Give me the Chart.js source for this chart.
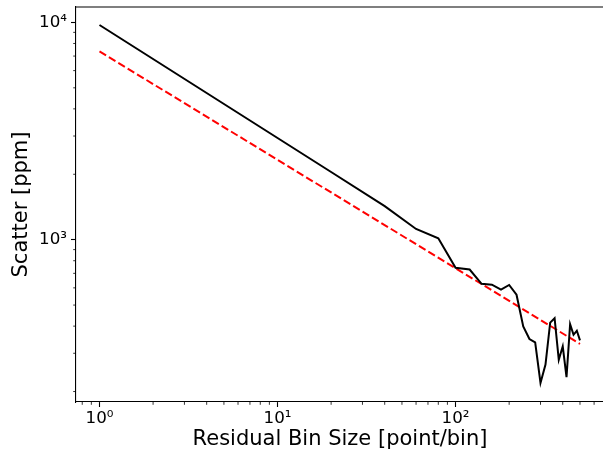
<!DOCTYPE html>
<html>
<head>
<meta charset="utf-8">
<script src="https://cdn.jsdelivr.net/npm/chart.js@4/dist/chart.umd.min.js"></script>
<style>
  html, body { margin: 0; padding: 0; background: #fff; overflow: hidden; }
  #wrap { width: 603px; height: 450px; overflow: hidden; }
</style>
</head>
<body>
<div id="wrap"><canvas id="chart" width="607" height="450"></canvas></div>
<script>
// residual bin size [point/bin]
const binSizes = [1, 20, 40, 60, 80, 100, 120, 140, 160, 180, 200, 220, 240,
                  260, 280, 300, 320, 340, 360, 380, 400, 420, 440, 460, 480, 500];
// measured scatter [ppm]
const scatterPpm = [9728, 2049, 1426, 1120, 1014, 743, 729, 626, 621, 589, 619, 558, 399,
                    349, 337, 219, 266, 415, 435, 280, 323, 233, 408, 365, 381, 344];
// expected white-noise line (ends)
const expectedBins = [1, 500];
const expectedPpm = [7354, 331];

const xTickValues = [1, 10, 100];
const xTickLabels = ["10\u2070", "10\u00b9", "10\u00b2"];
const yTickValues = [1000, 10000];
const yTickLabels = ["10\u00b3", "10\u2074"];
const xMinorTicks = [0.8, 0.9, 2, 3, 4, 5, 6, 7, 8, 9, 20, 30, 40, 50, 60, 70, 80, 90,
                     200, 300, 400, 500, 600];
const yMinorTicks = [200, 300, 400, 500, 600, 700, 800, 900,
                     2000, 3000, 4000, 5000, 6000, 7000, 8000, 9000];

const X_MIN = 0.738, X_MAX = 682;
const Y_MIN = 179, Y_MAX = 11775;
const FONT = "'DejaVu Sans', sans-serif";

// minor ticks + top spine, matplotlib style
const frameTicks = {
    id: "frameTicks",
    afterDraw(chart) {
        const { ctx, chartArea: a, scales: { x, y } } = chart;
        ctx.save();
        ctx.strokeStyle = "#000";
        ctx.lineWidth = 0.8;
        ctx.beginPath();
        xMinorTicks.forEach(v => {
            const px = x.getPixelForValue(v);
            if (px < a.left || px > a.right) return;
            ctx.moveTo(px, a.bottom);
            ctx.lineTo(px, a.bottom + 2.8);
        });
        yMinorTicks.forEach(v => {
            const py = y.getPixelForValue(v);
            if (py < a.top || py > a.bottom) return;
            ctx.moveTo(a.left, py);
            ctx.lineTo(a.left - 2.8, py);
        });
        ctx.stroke();
        ctx.lineWidth = 1.1;
        ctx.beginPath();
        ctx.moveTo(a.left, a.top);
        ctx.lineTo(a.right, a.top);
        ctx.stroke();
        ctx.restore();
    }
};

new Chart(document.getElementById("chart"), {
    type: "line",
    data: {
        datasets: [
            {
                label: "scatter",
                data: binSizes.map((b, i) => ({ x: b, y: scatterPpm[i] })),
                borderColor: "#000",
                borderWidth: 2,
                pointRadius: 0,
                tension: 0
            },
            {
                label: "expected",
                data: expectedBins.map((b, i) => ({ x: b, y: expectedPpm[i] })),
                borderColor: "#ff0000",
                borderWidth: 2,
                borderDash: [7.7, 3.3],
                pointRadius: 0,
                tension: 0
            }
        ]
    },
    options: {
        responsive: false,
        animation: false,
        layout: { padding: { top: 7, right: 3, left: 0, bottom: 0 } },
        plugins: {
            legend: { display: false },
            tooltip: { enabled: false }
        },
        scales: {
            x: {
                type: "logarithmic",
                bounds: "data",
                min: X_MIN,
                max: X_MAX,
                afterBuildTicks(axis) {
                    axis.ticks = xTickValues.map(v => ({ value: v }));
                    axis.min = X_MIN;
                    axis.max = X_MAX;
                },
                afterFit(axis) {
                    axis.height = 48;
                    axis.paddingLeft = 0;
                    axis.paddingRight = 0;
                },
                ticks: {
                    color: "#000",
                    font: { family: FONT, size: 16.7 },
                    padding: 2,
                    maxRotation: 0,
                    autoSkip: false,
                    callback: (v) => xTickLabels[xTickValues.indexOf(v)]
                },
                grid: {
                    drawOnChartArea: false,
                    drawTicks: true,
                    tickLength: 5,
                    tickColor: "#000",
                    tickWidth: 1.1
                },
                border: { display: true, color: "#000", width: 1.1 },
                title: {
                    display: true,
                    text: "Residual Bin Size [point/bin]",
                    color: "#000",
                    font: { family: FONT, size: 21, lineHeight: 1 },
                    padding: { top: 1, bottom: 0 }
                }
            },
            y: {
                type: "logarithmic",
                bounds: "data",
                min: Y_MIN,
                max: Y_MAX,
                afterBuildTicks(axis) {
                    axis.ticks = yTickValues.map(v => ({ value: v }));
                    axis.min = Y_MIN;
                    axis.max = Y_MAX;
                },
                afterFit(axis) {
                    axis.width = 76;
                    axis.paddingTop = 0;
                    axis.paddingBottom = 0;
                },
                ticks: {
                    color: "#000",
                    font: { family: FONT, size: 16.7 },
                    padding: 4,
                    autoSkip: false,
                    callback: (v) => yTickLabels[yTickValues.indexOf(v)]
                },
                grid: {
                    drawOnChartArea: false,
                    drawTicks: true,
                    tickLength: 5,
                    tickColor: "#000",
                    tickWidth: 1.1
                },
                border: { display: true, color: "#000", width: 1.1 },
                title: {
                    display: true,
                    text: "Scatter [ppm]",
                    color: "#000",
                    font: { family: FONT, size: 21, lineHeight: 1 },
                    padding: { top: 11.5, bottom: 0 }
                }
            }
        }
    },
    plugins: [frameTicks]
});
</script>
</body>
</html>
